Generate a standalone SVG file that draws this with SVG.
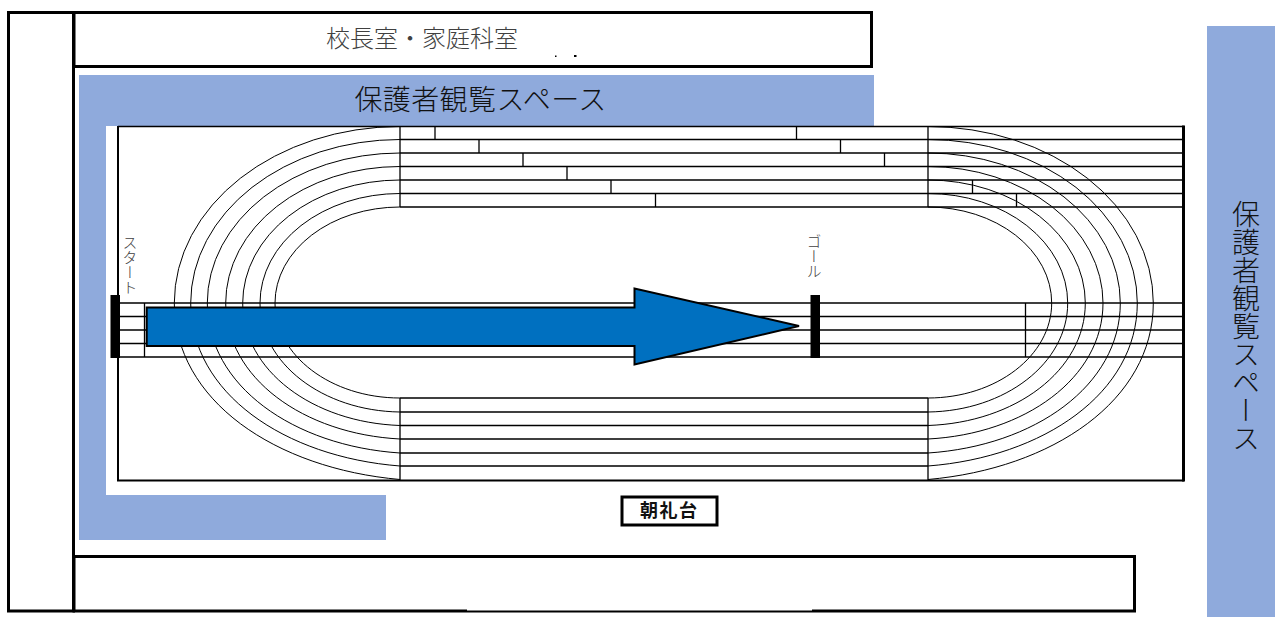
<svg xmlns="http://www.w3.org/2000/svg" width="1275" height="617" viewBox="0 0 1275 617">
<style>
.wall{fill:#fff;stroke:#000;stroke-width:3}
.space{fill:#8faadc}
.t{fill:none;stroke:#000;stroke-width:1}
.l{fill:none;stroke:#000;stroke-width:1.3}
.jp{font-family:"Noto Sans CJK JP","Noto Sans",sans-serif}
.v{writing-mode:vertical-rl;text-anchor:start}
</style>
<rect width="1275" height="617" fill="#fff"/>
<g id="side-room"><rect class="wall" x="8.5" y="12.5" width="65" height="598.5"/></g>
<g id="principal-room"><rect class="wall" x="74" y="12.5" width="797.5" height="54"/>
<text class="jp" x="422" y="47" font-size="24" text-anchor="middle" fill="#404040" font-weight="300">校長室・家庭科室</text>
<rect x="555" y="55.500" width="1.500" height="1.500" fill="#000"/><rect x="574" y="55" width="2.500" height="2" fill="#000"/></g>
<g id="bottom-building"><rect class="wall" x="74" y="556.500" width="1060.500" height="54.500"/><rect x="467" y="609" width="345" height="1.500" fill="#fff"/></g>
<g id="spectator-left"><path class="space" d="M79 75H874V126H106V495H386V540H79Z"/>
<text class="jp" x="480.500" y="110" font-size="28" letter-spacing="0.400" text-anchor="middle" fill="#111" font-weight="300">保護者観覧スペース</text></g>
<g id="spectator-right"><rect class="space" x="1207" y="26" width="68" height="591"/>
<text class="jp v" x="1246" y="200" font-size="28" fill="#111" font-weight="300" opacity="0.99">保護者観覧スペース</text></g>
<g id="track">
<rect x="118" y="126.500" width="1065.500" height="353" fill="#fff" stroke="none"/>
<path class="t" d="M400 126.500A225.700 176.500 0 0 0 174.300 303C174.300 400.500 275.300 468.500 400 479.500
M400 139.500A209.300 163.500 0 0 0 190.700 303C190.700 393 284.400 457 400 466
M400 153A192.700 150 0 0 0 207.300 303C207.300 385.800 293.600 446 400 453
M400 166.500A174.300 136.500 0 0 0 225.700 303C225.700 378.100 303.700 434 400 439
M400 180A157.300 123 0 0 0 242.700 303C242.700 370.700 313.100 422.500 400 425.500
M400 193.500A140 109.500 0 0 0 260 303C260 363.200 322.700 411 400 412
M400 207A125 96 0 0 0 275 303C275 355.500 331 398 400 398"/>
<path class="t" d="M928 126.500A225.300 176.500 0 0 1 1153.300 303C1153.300 400.500 1052.400 468.500 928 479.500
M928 139.500A209.300 163.500 0 0 1 1137.300 303C1137.300 393 1043.600 457 928 466
M928 153A192.300 150 0 0 1 1120.300 303C1120.300 385.800 1034.200 446 928 453
M928 166.500A175 136.500 0 0 1 1103 303C1103 378.100 1024.700 434 928 439
M928 180A157.300 123 0 0 1 1085.300 303C1085.300 370.700 1014.900 422.500 928 425.500
M928 193.500A139.700 109.500 0 0 1 1067.700 303C1067.700 363.200 1005.200 411 928 412
M928 207A123.700 96 0 0 1 1051.700 303C1051.700 355.500 996.300 398 928 398"/>
<path class="l" d="M400 139.500H1184M400 153H1184M400 166.500H1184M400 180H1184M400 193.500H1184M400 207H1184
M118 303H1184M118 316.500H1184M118 330H1184M118 343.500H1184M118 357H1184
M400 398H928M400 412H928M400 425.500H928M400 439H928M400 453H928M400 466H928"/>
<path class="l" d="M400 126V207M928 126V207M400 398V480M928 398V480M144.500 303V357M1025.500 303V357
M435 126.500V139.500M796.500 126.500V139.500M479 139.500V153M840.500 139.500V153M523 153V166.500M884.500 153V166.500M567 166.500V180M611 180V193.500M972.500 180V193.500M655.500 193.500V207M1016.500 193.500V207"/>
<path fill="none" stroke="#000" d="M118 126.500H1184" stroke-width="1.300"/>
<path fill="none" stroke="#000" d="M118 126V480.500H1184" stroke-width="2"/>
<path fill="none" stroke="#000" d="M1183.500 125.500V481.500" stroke-width="3"/>
</g>
<g id="start"><rect x="110.500" y="295" width="9.500" height="63" fill="#000"/>
<text class="jp v" x="130" y="235" font-size="15" fill="#404040" font-weight="300" opacity="0.99">スタート</text></g>
<g id="goal"><rect x="810.500" y="295" width="9.500" height="63" fill="#000"/>
<text class="jp v" x="814" y="234" font-size="15" fill="#404040" font-weight="300" opacity="0.99">ゴール</text></g>
<g id="connectors"><path d="M146.700 307.500H634.500V288.500L799 326L634.500 364.500V346H146.700Z" fill="#0070c0" stroke="#000" stroke-width="2"/></g>
<g id="platform"><rect x="622" y="497" width="95" height="28" fill="#fff" stroke="#000" stroke-width="3"/>
<text class="jp" x="669.200" y="517" font-size="18" letter-spacing="1.500" font-weight="700" text-anchor="middle" fill="#111">朝礼台</text></g>
</svg>
